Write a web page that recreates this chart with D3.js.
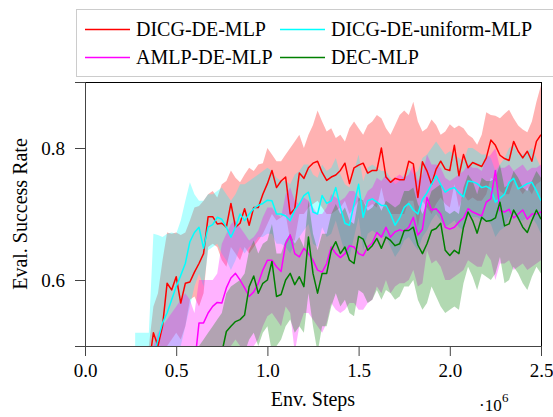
<!DOCTYPE html>
<html>
<head>
<meta charset="utf-8">
<script src="https://cdn.jsdelivr.net/npm/d3@7"></script>
<style>
    body { margin: 0; background: #fff; }
    svg text { font-family: "Liberation Serif", "Times New Roman", serif; fill: #000; }
</style>
</head>
<body>
<div id="chart"></div>
<script>
// env steps (x 10^6)
const steps = [0.275,0.300,0.325,0.350,0.375,0.400,0.425,0.450,0.475,0.500,0.525,0.550,0.575,0.600,0.625,0.650,0.675,0.700,0.725,0.750,0.775,0.800,0.825,0.850,0.875,0.900,0.925,0.950,0.975,1.000,1.025,1.050,1.075,1.100,1.125,1.150,1.175,1.200,1.225,1.250,1.275,1.300,1.325,1.350,1.375,1.400,1.425,1.450,1.475,1.500,1.525,1.550,1.575,1.600,1.625,1.650,1.675,1.700,1.725,1.750,1.775,1.800,1.825,1.850,1.875,1.900,1.925,1.950,1.975,2.000,2.025,2.050,2.075,2.100,2.125,2.150,2.175,2.200,2.225,2.250,2.275,2.300,2.325,2.350,2.375,2.400,2.425,2.450,2.475,2.500];

// DICG-DE-MLP
const redMean = [0.38,0.40,0.44,0.47,0.52,0.50,0.53,0.595,0.585,0.605,0.565,
    0.595,0.597,0.612,0.625,0.64,0.696,0.696,0.685,0.686,0.68,
    0.716,0.68,0.686,0.708,0.683,0.71,0.71,0.73,0.746,0.766,
    0.74,0.75,0.756,0.70,0.708,0.762,0.754,0.77,0.777,0.78,
    0.763,0.751,0.756,0.759,0.766,0.777,0.746,0.77,0.774,0.777,
    0.762,0.766,0.766,0.80,0.756,0.748,0.754,0.752,0.752,0.78,
    0.776,0.725,0.779,0.765,0.745,0.768,0.78,0.768,0.766,0.804,
    0.758,0.79,0.77,0.778,0.775,0.772,0.785,0.812,0.804,0.789,
    0.784,0.781,0.81,0.795,0.785,0.795,0.78,0.81,0.82];
const redHi = [0.43,0.45,0.47,0.50,0.56,0.58,0.63,0.672,0.67,0.672,0.668,
    0.672,0.69,0.71,0.712,0.72,0.73,0.735,0.725,0.745,0.75,
    0.766,0.755,0.748,0.76,0.77,0.765,0.775,0.777,0.80,0.79,
    0.78,0.78,0.79,0.80,0.81,0.82,0.80,0.82,0.835,0.857,
    0.84,0.825,0.83,0.815,0.82,0.81,0.83,0.84,0.83,0.82,
    0.835,0.84,0.85,0.845,0.83,0.82,0.835,0.85,0.857,0.85,
    0.87,0.84,0.825,0.83,0.843,0.835,0.82,0.825,0.836,0.83,
    0.834,0.83,0.82,0.815,0.805,0.82,0.854,0.85,0.849,0.845,
    0.852,0.858,0.845,0.834,0.828,0.824,0.84,0.87,0.895];
const redLo = [0.33,0.35,0.38,0.40,0.44,0.45,0.47,0.50,0.51,0.52,0.51,
    0.53,0.57,0.575,0.56,0.58,0.65,0.655,0.65,0.63,0.62,
    0.65,0.64,0.63,0.65,0.64,0.65,0.66,0.67,0.685,0.70,
    0.69,0.695,0.70,0.66,0.66,0.70,0.70,0.71,0.715,0.72,
    0.71,0.70,0.70,0.705,0.71,0.72,0.70,0.71,0.72,0.72,
    0.71,0.715,0.71,0.74,0.71,0.70,0.70,0.70,0.70,0.72,
    0.72,0.68,0.72,0.71,0.70,0.715,0.725,0.715,0.71,0.745,
    0.71,0.73,0.72,0.725,0.72,0.72,0.73,0.755,0.75,0.735,
    0.73,0.73,0.75,0.74,0.73,0.74,0.73,0.745,0.75];

// DICG-DE-uniform-MLP
const cyanMean = [0.38,0.40,0.43,0.46,0.48,0.51,0.535,0.55,0.57,0.59,0.607,
    0.625,0.658,0.672,0.68,0.648,0.68,0.684,0.695,0.692,0.68,
    0.665,0.68,0.70,0.69,0.70,0.708,0.713,0.716,0.721,0.72,
    0.70,0.70,0.697,0.69,0.706,0.715,0.728,0.733,0.703,0.70,
    0.728,0.716,0.72,0.74,0.71,0.686,0.683,0.715,0.745,0.695,
    0.72,0.723,0.718,0.713,0.713,0.70,0.683,0.694,0.71,0.716,
    0.706,0.70,0.722,0.732,0.745,0.758,0.745,0.733,0.738,0.74,
    0.732,0.726,0.75,0.749,0.746,0.74,0.742,0.738,0.718,0.724,
    0.73,0.748,0.754,0.738,0.742,0.746,0.748,0.735,0.72];
const cyanHi = [0.52,0.52,0.52,0.52,0.67,0.668,0.665,0.67,0.672,0.67,0.69,
    0.72,0.748,0.73,0.72,0.72,0.73,0.73,0.735,0.74,0.73,
    0.72,0.73,0.745,0.745,0.75,0.755,0.76,0.765,0.77,0.765,
    0.755,0.75,0.75,0.745,0.76,0.765,0.775,0.775,0.76,0.755,
    0.775,0.765,0.77,0.785,0.76,0.745,0.74,0.765,0.79,0.75,
    0.77,0.775,0.77,0.765,0.765,0.755,0.745,0.75,0.76,0.77,
    0.76,0.765,0.785,0.79,0.80,0.81,0.80,0.79,0.795,0.79,
    0.785,0.78,0.80,0.80,0.795,0.79,0.79,0.785,0.765,0.775,
    0.785,0.80,0.805,0.79,0.79,0.795,0.80,0.785,0.77];
const cyanLo = [0.28,0.30,0.33,0.36,0.38,0.40,0.42,0.44,0.46,0.48,0.50,
    0.53,0.56,0.59,0.61,0.59,0.645,0.65,0.655,0.64,0.63,
    0.615,0.63,0.65,0.64,0.65,0.655,0.665,0.665,0.67,0.67,
    0.655,0.655,0.65,0.64,0.655,0.665,0.675,0.685,0.655,0.65,
    0.68,0.665,0.67,0.69,0.665,0.64,0.635,0.665,0.695,0.645,
    0.67,0.675,0.67,0.665,0.665,0.65,0.635,0.645,0.66,0.665,
    0.655,0.645,0.665,0.675,0.69,0.70,0.69,0.68,0.685,0.69,
    0.68,0.675,0.70,0.695,0.695,0.69,0.69,0.685,0.665,0.675,
    0.68,0.695,0.70,0.69,0.69,0.695,0.695,0.685,0.67];

// AMLP-DE-MLP
const magMean = [0.40,0.40,0.41,0.42,0.43,0.43,0.44,0.44,0.45,0.45,0.46,
    0.46,0.47,0.47,0.535,0.535,0.55,0.56,0.566,0.565,0.588,
    0.603,0.61,0.60,0.588,0.575,0.582,0.595,0.615,0.63,0.63,
    0.62,0.613,0.655,0.668,0.64,0.635,0.648,0.64,0.63,0.615,
    0.612,0.625,0.65,0.64,0.634,0.64,0.652,0.65,0.64,0.637,
    0.65,0.656,0.672,0.665,0.68,0.665,0.673,0.676,0.674,0.68,
    0.695,0.668,0.677,0.725,0.706,0.708,0.70,0.68,0.677,0.68,
    0.688,0.694,0.708,0.703,0.70,0.697,0.718,0.723,0.766,0.705,
    0.703,0.707,0.694,0.70,0.706,0.692,0.70,0.70,0.703];
const magHi = [0.45,0.46,0.47,0.48,0.50,0.52,0.53,0.54,0.55,0.56,0.57,
    0.58,0.57,0.55,0.60,0.60,0.60,0.60,0.61,0.655,0.67,
    0.685,0.69,0.68,0.67,0.66,0.665,0.675,0.695,0.71,0.71,
    0.70,0.695,0.73,0.74,0.72,0.715,0.725,0.72,0.71,0.70,
    0.70,0.71,0.73,0.725,0.72,0.725,0.735,0.735,0.725,0.72,
    0.735,0.74,0.755,0.75,0.76,0.75,0.755,0.76,0.755,0.76,
    0.775,0.75,0.76,0.79,0.775,0.775,0.77,0.755,0.75,0.755,
    0.76,0.765,0.775,0.77,0.77,0.765,0.785,0.79,0.80,0.77,
    0.77,0.775,0.765,0.77,0.775,0.765,0.77,0.77,0.775];
const magLo = [0.33,0.34,0.35,0.36,0.36,0.37,0.37,0.38,0.38,0.39,0.39,
    0.40,0.40,0.41,0.44,0.45,0.46,0.47,0.47,0.47,0.49,
    0.50,0.51,0.50,0.50,0.49,0.50,0.51,0.53,0.545,0.55,
    0.54,0.53,0.56,0.55,0.49,0.53,0.55,0.55,0.54,0.53,
    0.52,0.535,0.565,0.555,0.55,0.555,0.565,0.565,0.555,0.555,
    0.565,0.57,0.59,0.58,0.60,0.58,0.59,0.595,0.595,0.60,
    0.615,0.59,0.595,0.645,0.625,0.63,0.62,0.60,0.60,0.605,
    0.61,0.615,0.63,0.625,0.62,0.62,0.64,0.63,0.60,0.625,
    0.625,0.63,0.615,0.62,0.625,0.615,0.62,0.625,0.63];

// DEC-MLP
const greenMean = [0.37,0.38,0.39,0.39,0.40,0.40,0.41,0.41,0.42,0.42,0.43,
    0.43,0.44,0.44,0.45,0.45,0.46,0.46,0.47,0.49,0.522,
    0.53,0.537,0.54,0.547,0.59,0.606,0.58,0.595,0.60,0.628,
    0.575,0.578,0.60,0.61,0.593,0.605,0.59,0.665,0.61,0.58,
    0.61,0.61,0.645,0.658,0.64,0.65,0.63,0.625,0.666,0.662,
    0.645,0.652,0.663,0.648,0.665,0.66,0.652,0.655,0.675,0.675,
    0.68,0.653,0.64,0.655,0.675,0.678,0.686,0.645,0.637,0.645,
    0.64,0.68,0.703,0.69,0.671,0.695,0.689,0.69,0.694,0.718,
    0.682,0.685,0.706,0.694,0.68,0.672,0.69,0.706,0.692];
const greenHi = [0.42,0.43,0.44,0.44,0.45,0.45,0.46,0.46,0.47,0.47,0.48,
    0.48,0.49,0.49,0.50,0.51,0.52,0.53,0.54,0.55,0.58,
    0.59,0.595,0.60,0.61,0.645,0.66,0.64,0.655,0.66,0.685,
    0.64,0.64,0.66,0.67,0.655,0.665,0.65,0.72,0.67,0.645,
    0.67,0.67,0.70,0.715,0.70,0.71,0.69,0.685,0.725,0.72,
    0.705,0.71,0.72,0.705,0.72,0.715,0.71,0.715,0.735,0.735,
    0.74,0.715,0.70,0.715,0.735,0.74,0.745,0.705,0.70,0.705,
    0.70,0.74,0.76,0.75,0.73,0.755,0.75,0.75,0.755,0.775,
    0.74,0.745,0.765,0.755,0.74,0.735,0.75,0.765,0.755];
const greenLo = [0.32,0.33,0.34,0.34,0.35,0.35,0.36,0.36,0.37,0.37,0.38,
    0.38,0.39,0.39,0.40,0.40,0.41,0.42,0.43,0.44,0.46,
    0.47,0.48,0.48,0.49,0.51,0.52,0.50,0.52,0.53,0.49,
    0.50,0.51,0.53,0.54,0.52,0.53,0.52,0.58,0.53,0.49,
    0.53,0.53,0.56,0.58,0.56,0.57,0.55,0.545,0.585,0.58,
    0.565,0.57,0.585,0.57,0.585,0.58,0.57,0.575,0.59,0.59,
    0.60,0.57,0.555,0.565,0.59,0.575,0.56,0.55,0.555,0.56,
    0.555,0.595,0.62,0.605,0.585,0.61,0.605,0.60,0.61,0.635,
    0.595,0.60,0.62,0.61,0.595,0.585,0.605,0.62,0.61];

const xTicks = [0, 0.5, 1.0, 1.5, 2.0, 2.5];
const yTicks = [0.6, 0.8];

const series = [
    { name: "DICG-DE-MLP", color: "#ff0000", mean: redMean, hi: redHi, lo: redLo },
    { name: "DICG-DE-uniform-MLP", color: "#00ffff", mean: cyanMean, hi: cyanHi, lo: cyanLo },
    { name: "AMLP-DE-MLP", color: "#ff00ff", mean: magMean, hi: magHi, lo: magLo },
    { name: "DEC-MLP", color: "#008000", mean: greenMean, hi: greenHi, lo: greenLo }
];

const width = 553;
const height = 417;
const margin = { top: 82, right: 12, bottom: 71, left: 85 };
const innerW = width - margin.left - margin.right;
const innerH = height - margin.top - margin.bottom;

const svg = d3.select("#chart")
    .append("svg")
    .attr("width", width)
    .attr("height", height);

const x = d3.scaleLinear().domain([0, 2.5]).range([0, innerW]);
const y = d3.scaleLinear().domain([0.5, 0.9]).range([innerH, 0]);

const g = svg.append("g").attr("transform", `translate(${margin.left},${margin.top})`);

g.append("clipPath").attr("id", "plot-clip")
    .append("rect").attr("width", innerW).attr("height", innerH);

const plot = g.append("g").attr("clip-path", "url(#plot-clip)");

const idx = d3.range(steps.length);

// shaded bands first, then the mean lines on top
series.forEach(s => {
    const area = d3.area()
        .x(i => x(steps[i]))
        .y0(i => y(s.lo[i]))
        .y1(i => y(s.hi[i]));
    plot.append("path")
        .attr("d", area(idx))
        .attr("fill", s.color)
        .attr("fill-opacity", 0.3)
        .attr("stroke", "none");
});

series.forEach(s => {
    const line = d3.line()
        .x(i => x(steps[i]))
        .y(i => y(s.mean[i]));
    plot.append("path")
        .attr("d", line(idx))
        .attr("fill", "none")
        .attr("stroke", s.color)
        .attr("stroke-width", 1.5)
        .attr("stroke-linejoin", "round");
});

// frame (top/right black)
g.append("rect")
    .attr("x", 0.5).attr("y", 0.5)
    .attr("width", innerW).attr("height", innerH)
    .attr("fill", "none")
    .attr("stroke", "#000");

const xAxis = g.append("g")
    .attr("transform", `translate(0,${innerH})`)
    .call(d3.axisBottom(x).tickValues(xTicks).tickFormat(d3.format(".1f")).tickSize(10).tickPadding(8));
const yAxis = g.append("g")
    .call(d3.axisLeft(y).tickValues(yTicks).tickFormat(d3.format(".1f")).tickSize(10).tickPadding(10));

[xAxis, yAxis].forEach(a => {
    a.selectAll("path, line").attr("stroke", "#444");
    a.selectAll("text").style("font-size", "19px").attr("fill", "#000");
});

// axis labels
svg.append("text")
    .attr("x", margin.left + innerW / 2)
    .attr("y", 406)
    .attr("text-anchor", "middle")
    .style("font-size", "20px")
    .text("Env. Steps");

svg.append("text")
    .attr("transform", `translate(27,${margin.top + innerH / 2}) rotate(-90)`)
    .attr("text-anchor", "middle")
    .style("font-size", "20px")
    .text("Eval. Success Rate");

// x10^6 multiplier
svg.append("text")
    .attr("x", 479).attr("y", 411)
    .style("font-size", "17px")
    .text("\u00b710");
svg.append("text")
    .attr("x", 502).attr("y", 402)
    .style("font-size", "13px")
    .text("6");

// legend
const legend = svg.append("g");
legend.append("rect")
    .attr("x", 76.5).attr("y", 9.5)
    .attr("width", 490).attr("height", 67)
    .attr("fill", "#fff")
    .attr("stroke", "#ccc");

const legendPos = [[85, 29.5], [280, 29.5], [85, 57.5], [280, 57.5]];
series.forEach((s, k) => {
    const [lx, ly] = legendPos[k];
    legend.append("line")
        .attr("x1", lx).attr("x2", lx + 45)
        .attr("y1", ly).attr("y2", ly)
        .attr("stroke", s.color)
        .attr("stroke-width", 1.5);
    legend.append("text")
        .attr("x", lx + 51).attr("y", ly + 6.5)
        .style("font-size", "20px")
        .text(s.name);
});
</script>
</body>
</html>
